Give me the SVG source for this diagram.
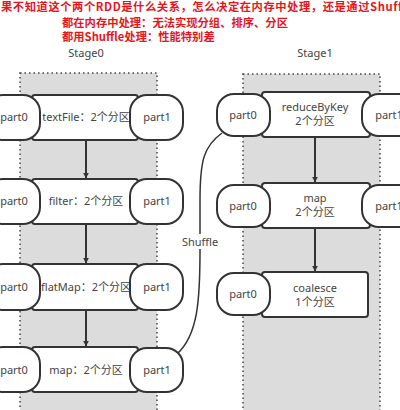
<svg xmlns="http://www.w3.org/2000/svg" width="400" height="410" viewBox="0 0 400 410">
<defs>
<marker id="ah" viewBox="0 0 10 10" refX="9" refY="5" markerWidth="6" markerHeight="6" orient="auto" markerUnits="userSpaceOnUse">
<path d="M0,0 L10,5 L0,10 Z" fill="#333"/>
</marker>
<style>
.stage{fill:#dcdcdc;stroke:#444;stroke-width:1.5;stroke-dasharray:1.5,3}
.box{fill:#fff;stroke:#333;stroke-width:2}
.t{font-family:"Noto Sans","Noto Sans CJK SC",sans-serif;font-size:11px;fill:#444;text-anchor:middle}
.red{font-family:"Noto Sans CJK SC","Noto Sans",sans-serif;font-size:11.3px;font-weight:bold;fill:#e8141c}
.edge{stroke:#333;stroke-width:2;fill:none}
</style>
</defs>
<rect width="400" height="410" fill="#fff"/>
<text class="red" x="1" y="11" letter-spacing="0.55">果不知道这个两个RDD是什么关系，怎么决定在内存中处理，还是通过Shuffle</text>
<text class="red" x="62" y="27">都在内存中处理：无法实现分组、排序、分区</text>
<text class="red" x="62" y="41">都用Shuffle处理：性能特别差</text>
<g id="stage0"><rect class="stage" x="20" y="73" width="137" height="345"/><text class="t" x="86" y="57">Stage0</text></g>
<g id="stage1"><rect class="stage" x="243" y="74" width="137" height="345"/><text class="t" x="315" y="57">Stage1</text></g>
<g id="connectors">
<line class="edge" x1="86" y1="140" x2="86" y2="178" marker-end="url(#ah)"/>
<line class="edge" x1="86" y1="224" x2="86" y2="263" marker-end="url(#ah)"/>
<line class="edge" x1="86" y1="310" x2="86" y2="346" marker-end="url(#ah)"/>
<line class="edge" x1="315" y1="137" x2="315" y2="182" marker-end="url(#ah)"/>
<line class="edge" x1="315" y1="228" x2="315" y2="271" marker-end="url(#ah)"/>
<path class="edge" d="M177,354 C198,335 200,300 200,250 L200,200 C200,160 204,146 222,133" style="stroke-width:1.5"/>
<rect x="182" y="234" width="37" height="15" fill="#fff"/>
<text class="t" x="200" y="246">Shuffle</text>
</g>
<g id="textFile"><rect class="box" x="32" y="95" width="106" height="45" rx="3"/><text class="t" x="86" y="121">textFile：2个分区</text>
<rect class="box" x="-14" y="95" width="54" height="45" rx="17"/><text class="t" x="14" y="121">part0</text>
<rect class="box" x="130" y="95" width="53" height="45" rx="17"/><text class="t" x="157" y="121">part1</text></g>
<g id="filter"><rect class="box" x="32" y="179" width="106" height="45" rx="3"/><text class="t" x="86" y="205">filter：2个分区</text>
<rect class="box" x="-14" y="179" width="54" height="45" rx="17"/><text class="t" x="14" y="205">part0</text>
<rect class="box" x="130" y="179" width="53" height="45" rx="17"/><text class="t" x="157" y="205">part1</text></g>
<g id="flatMap"><rect class="box" x="32" y="264" width="106" height="46" rx="3"/><text class="t" x="86" y="291">flatMap：2个分区</text>
<rect class="box" x="-14" y="264" width="54" height="46" rx="17"/><text class="t" x="14" y="291">part0</text>
<rect class="box" x="130" y="264" width="53" height="46" rx="17"/><text class="t" x="157" y="291">part1</text></g>
<g id="map0"><rect class="box" x="32" y="347" width="106" height="45" rx="3"/><text class="t" x="86" y="374">map：2个分区</text>
<rect class="box" x="-14" y="347" width="54" height="45" rx="17"/><text class="t" x="14" y="374">part0</text>
<rect class="box" x="130" y="348" width="53" height="44" rx="17"/><text class="t" x="157" y="374">part1</text></g>
<g id="reduceByKey"><rect class="box" x="262" y="92" width="108" height="45" rx="3"/><text class="t" x="315" y="111">reduceByKey</text><text class="t" x="315" y="125">2个分区</text>
<rect class="box" x="217" y="94" width="53" height="42" rx="17"/><text class="t" x="243" y="119">part0</text>
<rect class="box" x="362" y="94" width="54" height="42" rx="17"/><text class="t" x="389" y="119">part1</text></g>
<g id="map1"><rect class="box" x="262" y="183" width="108" height="45" rx="3"/><text class="t" x="315" y="202">map</text><text class="t" x="315" y="216">2个分区</text>
<rect class="box" x="217" y="185" width="53" height="42" rx="17"/><text class="t" x="243" y="210">part0</text>
<rect class="box" x="362" y="185" width="54" height="42" rx="17"/><text class="t" x="389" y="210">part1</text></g>
<g id="coalesce"><rect class="box" x="262" y="272" width="106" height="45" rx="3"/><text class="t" x="315" y="292">coalesce</text><text class="t" x="315" y="306">1个分区</text>
<rect class="box" x="217" y="273" width="53" height="42" rx="17"/><text class="t" x="243" y="298">part0</text></g>
</svg>
